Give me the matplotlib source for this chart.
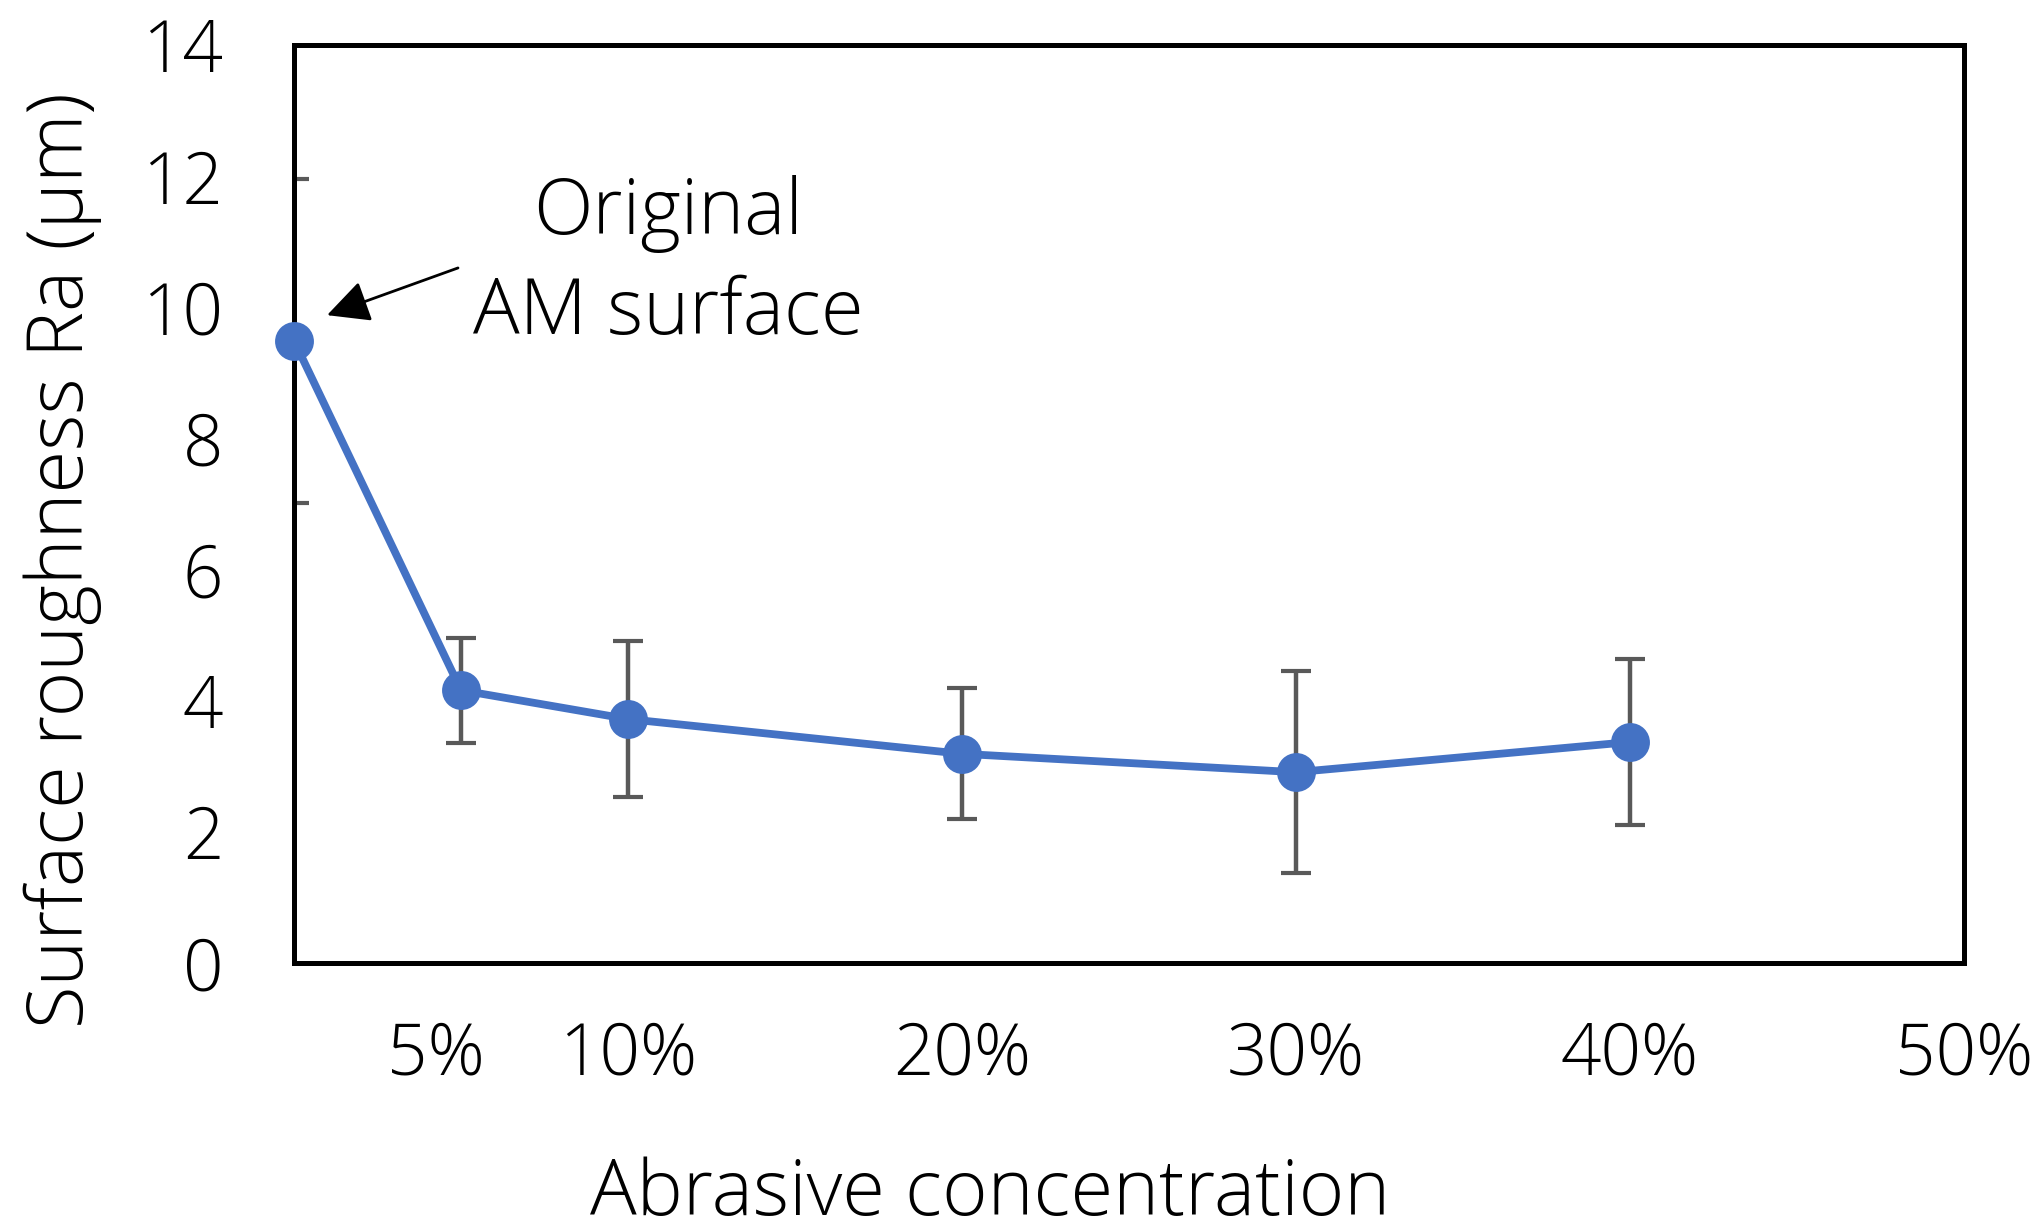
import matplotlib
matplotlib.use("Agg")
import matplotlib.pyplot as plt
from matplotlib.transforms import ScaledTranslation

# Data
concentration = [0, 5, 10, 20, 30, 40]          # abrasive concentration (%)
roughness = [9.49, 4.16, 3.72, 3.19, 2.91, 3.37]  # Ra (um)
roughness_err = [2.47, 0.80, 1.19, 1.00, 1.54, 1.27]
xtick_vals = [5, 10, 20, 30, 40, 50]
xtick_labels = ["5%", "10%", "20%", "30%", "40%", "50%"]
ytick_vals = [0, 2, 4, 6, 8, 10, 12, 14]

plt.rcParams['font.family'] = ['Open Sans', 'DejaVu Sans']
plt.rcParams['font.weight'] = 'light'
FS = 51
FS_LBL = 56
W, H = 2041, 1230
fig = plt.figure(figsize=(W / 100, H / 100), dpi=100)
ax = fig.add_axes([294 / W, 1 - 963 / H, (1964 - 294) / W, (963 - 45) / H])

ax.errorbar(concentration, roughness, yerr=roughness_err, fmt='none',
            ecolor='#595959', elinewidth=3.2, capsize=10.5, capthick=3.0,
            zorder=2)
ax.plot(concentration, roughness, color='#4472C4', lw=5.6, marker='o',
        markersize=28, markeredgewidth=0, clip_on=False, zorder=4)

ax.set_xlim(0, 50)
ax.set_ylim(0, 14)
ax.set_xticks(xtick_vals)
ax.set_xticklabels(xtick_labels)
ax.set_yticks(ytick_vals)
ax.tick_params(axis='both', length=0, labelsize=FS, labelcolor='black')
ax.tick_params(axis='y', pad=51)
ax.tick_params(axis='x', pad=41)
for lbl in ax.get_yticklabels() + ax.get_xticklabels():
    lbl.set_fontweight('light')

# the first x label sits slightly left of its tick in the reference
first = ax.get_xticklabels()[0]
first.set_transform(first.get_transform() + ScaledTranslation(-0.25, 0, fig.dpi_scale_trans))

for s in ax.spines.values():
    s.set_linewidth(3.6)
    s.set_color('black')

fig.text(990 / W, 1 - 1215 / H, "Abrasive concentration", fontsize=FS_LBL,
         ha='center', va='baseline', fontweight='light')
fig.text(63 / W, 1 - 560 / H, "Surface roughness Ra (μm)", fontsize=FS_LBL,
         rotation=90, ha='center', va='center', fontweight='light')

ax.annotate("", xy=(0.99, 9.88), xytext=(4.91, 10.6),
            arrowprops=dict(arrowstyle='-|>,head_length=1.3,head_width=0.65',
                            mutation_scale=20, color='black', lw=2.0,
                            shrinkA=0, shrinkB=0))
ax.text(11.2, 10.66, "Original\nAM surface", fontsize=FS_LBL, ha='center',
        va='center', linespacing=1.36, fontweight='light')

fig.savefig("out.png", dpi=100)
